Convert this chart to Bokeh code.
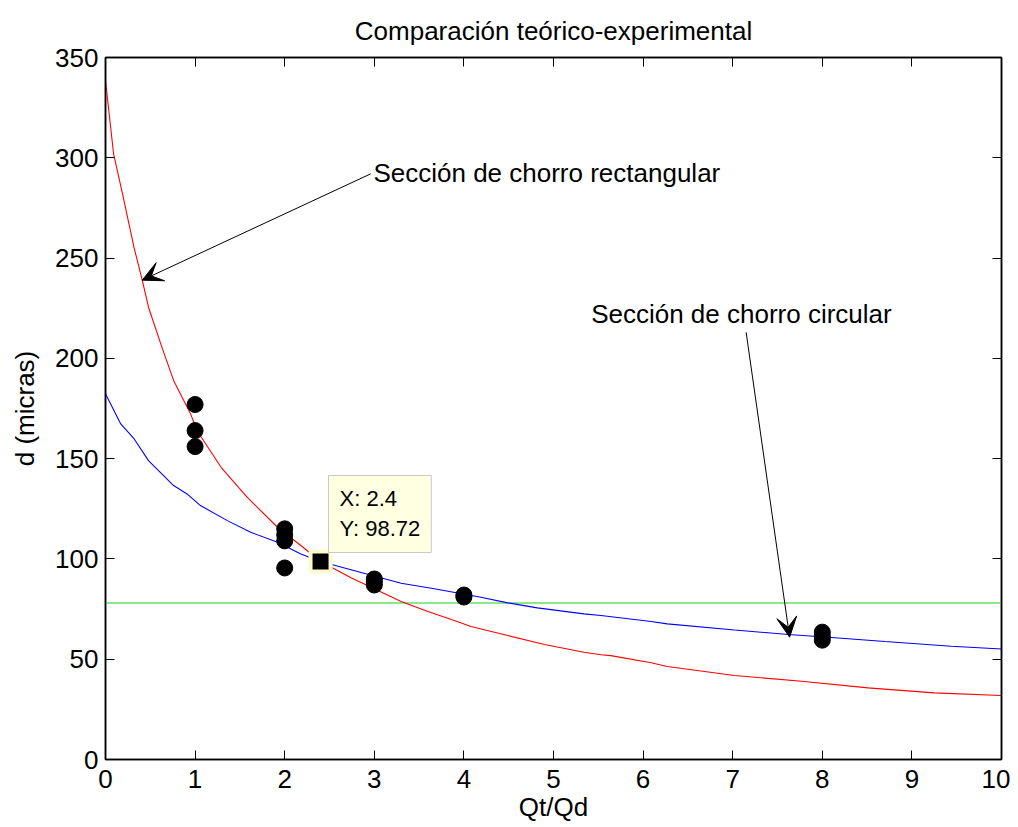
from bokeh.plotting import figure
from bokeh.models import (Range1d, LinearAxis, Label, Arrow, VeeHead, FixedTicker,
                          CustomLabelingPolicy)
from bokeh.embed import file_html
from bokeh.resources import INLINE

# ---- data ----
x_ticks = [0, 1, 2, 3, 4, 5, 6, 7, 8, 9, 10]
y_ticks = [0, 50, 100, 150, 200, 250, 300, 350]

# theoretical curve: rectangular jet section (red)
x_rect = [0, 0.09, 0.19, 0.32, 0.41, 0.48, 0.63, 0.76, 0.95, 1.02, 1.29, 1.58,
          1.92, 2.18, 2.4, 2.74, 3.3, 3.59, 3.82, 4.08, 4.49, 4.9, 5.34,
          5.53, 5.64, 6.09, 6.27, 7.02, 7.77, 8.51, 9.25, 10]
d_rect = [338.5, 302, 282, 255, 239, 225.5, 205.5, 189, 172.3, 164, 145.7, 130.8,
          115.8, 106.7, 98.72, 90.6, 78.8, 73.9, 70.4, 66.3, 61.8, 57.3, 53.5,
          52.2, 51.8, 48.2, 46.4, 41.9, 39.0, 35.7, 33.2, 31.9]

# theoretical curve: circular jet section (blue)
x_circ = [0, 0.17, 0.32, 0.48, 0.76, 0.91, 1.06, 1.36, 1.62, 1.92, 2.18, 2.4,
          2.74, 3.3, 3.67, 4.19, 4.49, 4.82, 5.34, 5.53, 6.09, 6.27, 7.02, 7.62,
          8.14, 8.7, 9.44, 10]
d_circ = [182.3, 167.3, 159.8, 149.0, 136.6, 132.4, 126.6, 119.1, 113.3, 108.3, 102.5, 98.72,
          94.6, 87.9, 85.1, 80.9, 78.1, 75.6, 72.6, 71.8, 68.8, 67.6, 64.6, 62.3,
          60.7, 58.8, 56.5, 55.1]

# horizontal reference line (green)
x_green = [0, 10]
d_green = [78, 78]

# experimental points
x_exp = [1, 1, 1, 2, 2, 2, 2, 3, 3, 3, 4, 4, 8, 8, 8]
d_exp = [177, 164, 156, 115, 112, 109, 95.5, 90, 88.5, 87, 82, 81, 63.5, 61.5, 59.5]

# data tip
tip_x = [2.4]
tip_y = [98.72]

FONT = "Liberation Sans"

p = figure(frame_width=896, frame_height=702,
           x_range=Range1d(0, 10), y_range=Range1d(0, 350),
           output_backend="svg", toolbar_location=None,
           min_border_left=105, min_border_top=57, min_border_right=9, min_border_bottom=60,
           background_fill_color="white", border_fill_color="white")

p.title.text = "Comparación teórico-experimental"
p.title.align = "center"
p.title.text_font = FONT
p.title.text_font_size = "26px"
p.title.text_font_style = "normal"
p.title.text_color = "black"
p.title.standoff = 24

p.xgrid.visible = False
p.ygrid.visible = False
p.outline_line_color = "black"
p.outline_line_width = 1.5

hide_all = CustomLabelingPolicy(code="""
    for (const i of indices) indices.unset(i)
    return indices
""")

def style_axis(ax, ticks, show_labels=True):
    ax.ticker = FixedTicker(ticks=ticks)
    ax.major_tick_in = 9
    ax.major_tick_out = 0
    ax.minor_tick_in = 0
    ax.minor_tick_out = 0
    ax.major_tick_line_color = "black"
    ax.axis_line_color = "black"
    ax.axis_line_width = 1.5
    ax.major_label_text_font = FONT
    ax.major_label_text_color = "black"
    if show_labels:
        ax.major_label_text_font_size = "26px"
        ax.major_label_standoff = 7
    else:
        ax.major_label_text_font_size = "0px"
        ax.major_label_policy = hide_all
        ax.major_label_standoff = 0

style_axis(p.xaxis[0], x_ticks)
style_axis(p.yaxis[0], y_ticks)
p.xaxis[0].major_label_standoff = 10
p.xaxis[0].axis_label = "Qt/Qd"
p.yaxis[0].axis_label = "d (micras)"
for ax in (p.xaxis[0], p.yaxis[0]):
    ax.axis_label_text_font = FONT
    ax.axis_label_text_font_size = "26px"
    ax.axis_label_text_font_style = "normal"
    ax.axis_label_text_color = "black"
p.xaxis[0].axis_label_standoff = 1
p.yaxis[0].axis_label_standoff = 12

top_ax = LinearAxis()
style_axis(top_ax, x_ticks, show_labels=False)
p.add_layout(top_ax, "above")
right_ax = LinearAxis()
style_axis(right_ax, y_ticks, show_labels=False)
p.add_layout(right_ax, "right")

# curves
p.line(x_green, d_green, line_color="#66e066", line_width=1.6)
p.line(x_rect, d_rect, line_color="red", line_width=1.1)
p.line(x_circ, d_circ, line_color="blue", line_width=1.1)

# experimental points
p.scatter(x_exp, d_exp, marker="circle", size=16, fill_color="black", line_color="black")

# data tip marker
p.scatter(tip_x, tip_y, marker="square", size=20, fill_color="black",
          line_color="#fbfbd0", line_width=4)
p.add_layout(Label(x=tip_x[0], y=tip_y[0], x_offset=8, y_offset=9,
                   text="X: 2.4\nY: 98.72", text_align="left", text_baseline="bottom",
                   text_font=FONT, text_font_size="22px", text_color="black",
                   background_fill_color="#ffffe1", border_line_color="#c8c8c8",
                   padding=11))

# annotation arrows + texts
p.add_layout(Arrow(x_start=2.96, y_start=292.0, x_end=0.41, y_end=239.0,
                   line_color="black", line_width=1,
                   end=VeeHead(size=20, fill_color="black", line_color="black")))
p.add_layout(Label(x=2.99, y=292.5, text="Sección de chorro rectangular",
                   text_align="left", text_baseline="middle",
                   text_font=FONT, text_font_size="26px", text_color="black"))

p.add_layout(Arrow(x_start=7.15, y_start=213.0, x_end=7.635, y_end=61.0,
                   line_color="black", line_width=1,
                   end=VeeHead(size=20, fill_color="black", line_color="black")))
p.add_layout(Label(x=5.42, y=222.2, text="Sección de chorro circular",
                   text_align="left", text_baseline="middle",
                   text_font=FONT, text_font_size="26px", text_color="black"))

open("out.html", "w").write(file_html(p, INLINE))
